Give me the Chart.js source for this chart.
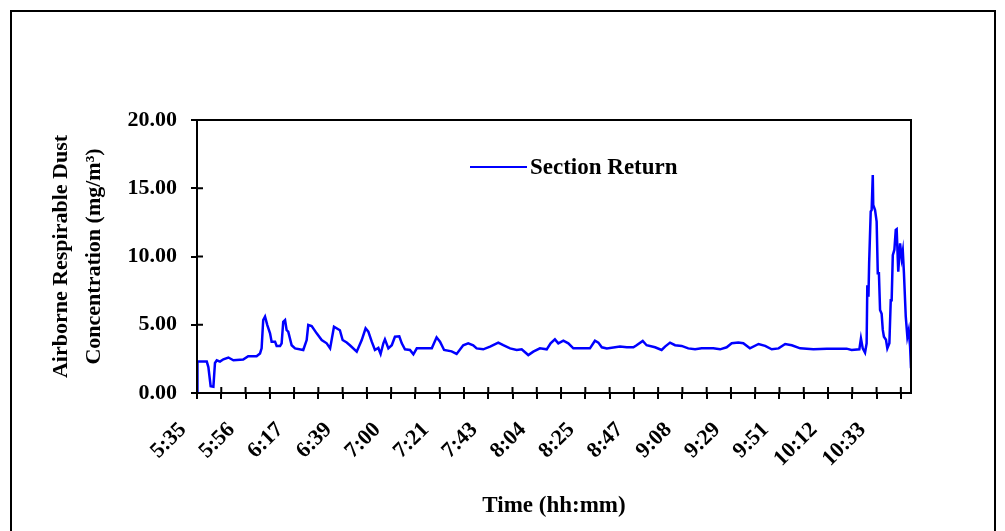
<!DOCTYPE html>
<html>
<head>
<meta charset="utf-8">
<script src="https://cdn.jsdelivr.net/npm/chart.js@4"></script>
<style>
  html, body { margin: 0; padding: 0; background: #fff; }
  #wrap { position: relative; width: 1005px; height: 531px; overflow: hidden; }
  #frame { position: absolute; left: 10px; top: 10px; width: 982px; height: 540px; border: 2px solid #000; }
  canvas { position: absolute; left: 0; top: 0; }
</style>
</head>
<body>
<div id="wrap">
  <div id="frame"></div>
  <canvas id="dust" width="1005" height="531"></canvas>
</div>
<script>
// x tick labels (every second tick mark is labelled), start 5:35
var tickLabels = ['5:35', '5:56', '6:17', '6:39', '7:00', '7:21', '7:43', '8:04', '8:25', '8:47', '9:08', '9:29', '9:51', '10:12', '10:33']
var tickStep = 32 / 3      // minutes between tick marks
var tickCount = 30

// minutes elapsed since 5:35
var minutes = [
    0, 0.2, 1.3, 4.3, 5.0, 6.0, 7.2, 7.9, 8.7, 10.1, 11.6, 13.8, 16.0, 20.3, 22.5, 26.2, 27.7, 28.4,
    29.1, 29.9, 30.9, 32.1, 32.8, 34.3, 35.0, 36.5, 37.2, 37.9, 38.7, 39.4, 40.1, 41.6, 43.1, 46.7,
    48.2, 48.9, 50.4, 52.6, 54.8, 57.0, 58.5, 60.2, 62.8, 64.0, 65.8, 67.2, 70.2, 72.4, 74.1, 75.3,
    76.8, 78.2, 79.7, 80.7, 81.9, 82.6, 84.1, 85.6, 87.0, 88.9, 90.0, 91.4, 93.6, 95.1, 96.6, 103.2,
    105.3, 106.8, 108.6, 111.9, 114.1, 117.0, 119.2, 121.4, 122.9, 125.8, 128.8, 132.4, 134.6, 137.6,
    140.5, 142.7, 145.6, 147.8, 150.7, 153.7, 155.4, 157.3, 158.8, 161.0, 163.2, 165.4, 172.7, 174.9,
    176.4, 177.9, 180.1, 185.9, 188.9, 191.8, 193.2, 195.9, 197.6, 201.3, 204.2, 205.7, 207.9, 210.1,
    213.0, 215.9, 218.9, 221.8, 226.9, 229.9, 232.8, 235.0, 237.9, 240.1, 243.0, 246.8, 249.7, 252.6,
    255.6, 258.5, 261.4, 265.1, 270.9, 276.8, 285.5, 287.7, 291.1, 291.8, 292.6, 293.6, 294.3, 294.6,
    295.1, 295.4, 296.1, 296.5, 297.0, 297.2, 298.0, 298.7, 299.2, 299.7, 300.2, 300.9, 301.4, 301.9,
    302.8, 303.4, 304.3, 304.9, 305.3, 305.8, 306.5, 307.1, 307.5, 308.2, 309.0, 309.7, 310.2, 310.7,
    311.5, 312.2, 312.8, 313.4, 313.8
]

// respirable dust, mg/m3
var dust = [
    0.1, 2.3, 2.3, 2.3, 1.9, 0.5, 0.46, 2.2, 2.4, 2.3, 2.47, 2.6, 2.4, 2.45, 2.7, 2.7, 2.9, 3.27,
    5.35, 5.6, 4.98, 4.37, 3.76, 3.76, 3.44, 3.44, 3.64, 5.22, 5.35, 4.6, 4.5, 3.5, 3.27, 3.15,
    3.88, 4.98, 4.9, 4.37, 3.88, 3.64, 3.27, 4.86, 4.6, 3.88, 3.7, 3.5, 3.03, 3.88, 4.74, 4.5,
    3.76, 3.15, 3.3, 2.86, 3.64, 3.93, 3.27, 3.5, 4.12, 4.15, 3.64, 3.2, 3.15, 2.83, 3.27, 3.27,
    4.08, 3.76, 3.15, 3.05, 2.86, 3.5, 3.64, 3.5, 3.27, 3.2, 3.4, 3.69, 3.5, 3.27,
    3.15, 3.2, 2.78, 3.03, 3.27, 3.2, 3.64, 3.93, 3.64, 3.83, 3.64, 3.27, 3.27, 3.83,
    3.69, 3.35, 3.27, 3.4, 3.35, 3.35, 3.5, 3.81, 3.5, 3.35, 3.15, 3.4, 3.69, 3.5,
    3.45, 3.27, 3.2, 3.27, 3.27, 3.2, 3.35, 3.64, 3.69, 3.64, 3.27, 3.59, 3.45, 3.2,
    3.27, 3.59, 3.5, 3.27, 3.2, 3.25, 3.25, 3.15, 3.2, 4.0, 3.27, 2.95, 3.64, 7.9,
    7.05, 9.5, 13.3, 13.4, 15.97, 13.77, 13.4, 12.55, 8.77, 8.77, 6.08, 5.8, 4.62, 4.12,
    3.9, 3.27, 3.64, 6.8, 6.8, 10.1, 10.5, 11.95, 12.0, 8.89, 10.97, 9.87, 10.4, 8.77,
    5.59, 4.12, 4.6, 3.39, 1.81
]

var points = minutes.map((m, i) => ({ x: m, y: dust[i] }))

var serif = "'Liberation Serif', 'Times New Roman', serif"

// box round the plot, ticks crossing the axes, legend inside the plot
var plotExtras = {
    id: 'plotExtras',
    afterDraw(chart) {
        var ctx = chart.ctx
        var a = chart.chartArea
        ctx.save()
        ctx.strokeStyle = '#000'
        ctx.lineWidth = 2
        ctx.strokeRect(a.left, a.top, a.right - a.left, a.bottom - a.top)

        ctx.beginPath()
        chart.scales.x.ticks.forEach((t, i) => {
            var px = chart.scales.x.getPixelForTick(i)
            ctx.moveTo(px, a.bottom)
            ctx.lineTo(px, a.bottom - 6)
        })
        chart.scales.y.ticks.forEach((t, i) => {
            var py = chart.scales.y.getPixelForTick(i)
            ctx.moveTo(a.left, py)
            ctx.lineTo(a.left + 6, py)
        })
        ctx.stroke()

        var ds = chart.data.datasets[0]
        var lx = a.left + 273
        var ly = a.top + 47
        ctx.strokeStyle = ds.borderColor
        ctx.lineWidth = 2
        ctx.beginPath()
        ctx.moveTo(lx, ly)
        ctx.lineTo(lx + 57, ly)
        ctx.stroke()
        ctx.fillStyle = '#000'
        ctx.font = "bold 23px " + serif
        ctx.textBaseline = 'middle'
        ctx.fillText(ds.label, lx + 60, ly + 1)
        ctx.restore()
    }
}

var chart = new Chart(document.getElementById('dust'), {
    type: 'line',
    data: {
        datasets: [{
            label: 'Section Return',
            data: points,
            borderColor: '#0000ff',
            backgroundColor: '#0000ff',
            borderWidth: 2.5,
            pointRadius: 0,
            tension: 0,
            fill: false
        }]
    },
    options: {
        responsive: false,
        animation: false,
        layout: { padding: { top: 120, right: 94, left: 0, bottom: 0 } },
        plugins: {
            legend: { display: false },
            tooltip: { enabled: false }
        },
        scales: {
            x: {
                type: 'linear',
                min: 0,
                max: 313.8,
                afterBuildTicks(scale) {
                    var t = []
                    for (var i = 0; i < tickCount; i++) t.push({ value: i * tickStep })
                    scale.ticks = t
                },
                afterFit(scale) { scale.height = 138 },
                grid: { drawOnChartArea: false, color: '#000', lineWidth: 2, tickLength: 6 },
                border: { color: '#000', width: 2 },
                ticks: {
                    autoSkip: false,
                    minRotation: 45,
                    maxRotation: 45,
                    padding: 18,
                    labelOffset: -14,
                    color: '#000',
                    font: { family: serif, size: 22, weight: 'bold' },
                    callback: (v, i) => (i % 2 === 0 ? tickLabels[i / 2] || '' : '')
                },
                title: {
                    display: true,
                    text: 'Time (hh:mm)',
                    color: '#000',
                    font: { family: serif, size: 23, weight: 'bold' },
                    padding: { top: 0, bottom: 11 }
                }
            },
            y: {
                min: 0,
                max: 20,
                afterFit(scale) { scale.width = 197 },
                grid: { drawOnChartArea: false, color: '#000', lineWidth: 2, tickLength: 6 },
                border: { color: '#000', width: 2 },
                ticks: {
                    stepSize: 5,
                    padding: 14,
                    color: '#000',
                    font: { family: serif, size: 22, weight: 'bold' },
                    callback: v => v.toFixed(2)
                },
                title: {
                    display: true,
                    text: ['Airborne Respirable Dust', 'Concentration (mg/m\u00b3)'],
                    color: '#000',
                    font: { family: serif, size: 22, weight: 'bold', lineHeight: 1.5 },
                    padding: { top: 45, bottom: 0 }
                }
            }
        }
    },
    plugins: [plotExtras]
})
</script>
</body>
</html>
